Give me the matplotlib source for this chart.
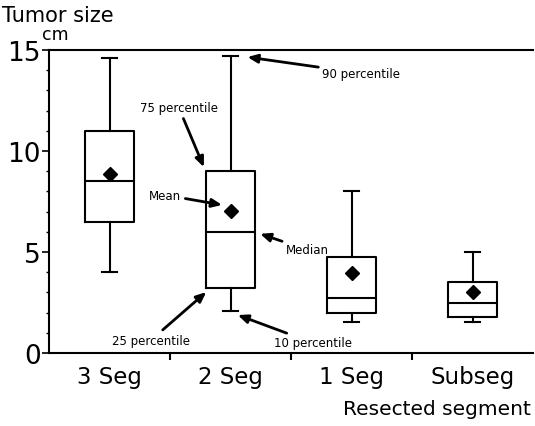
import matplotlib.pyplot as plt
from matplotlib.ticker import MultipleLocator, FixedLocator, NullFormatter

# data (cm)
groups = ["3 Seg", "2 Seg", "1 Seg", "Subseg"]
p10 = [4.0, 2.1, 1.55, 1.55]
p25 = [6.5, 3.2, 2.0, 1.8]
median = [8.5, 6.0, 2.7, 2.5]
p75 = [11.0, 9.0, 4.75, 3.5]
p90 = [14.6, 14.7, 8.0, 5.0]
mean = [8.85, 7.05, 3.95, 3.0]

stats = []
for i, g in enumerate(groups):
    stats.append(dict(label=g, whislo=p10[i], q1=p25[i], med=median[i],
                      q3=p75[i], whishi=p90[i], mean=mean[i], fliers=[]))

plt.rcParams["font.family"] = ["DejaVu Sans"]

fig = plt.figure(figsize=(5.35, 4.27), dpi=100)
ax = fig.add_axes([49 / 535, 73 / 427, 484 / 535, 303 / 427])

lw = 1.5
ax.bxp(stats, positions=[1, 2, 3, 4], widths=0.4, capwidths=0.12,
       showmeans=True, showfliers=False,
       boxprops=dict(color="black", linewidth=lw),
       whiskerprops=dict(color="black", linewidth=lw),
       capprops=dict(color="black", linewidth=lw),
       medianprops=dict(color="black", linewidth=lw),
       meanprops=dict(marker="D", markerfacecolor="black",
                      markeredgecolor="black", markersize=7))

ax.set_xlim(0.5, 4.5)
ax.set_ylim(0, 15)

# spines
ax.spines["right"].set_visible(False)
for s in ["left", "bottom", "top"]:
    ax.spines[s].set_linewidth(1.5)

# y ticks
ax.yaxis.set_major_locator(MultipleLocator(5))
ax.yaxis.set_minor_locator(MultipleLocator(1))
ax.tick_params(axis="y", which="major", length=5, width=1.2, labelsize=19, pad=1)
ax.tick_params(axis="y", which="minor", length=2.5, width=1)

# x ticks: separators at boundaries, labels at box centers
ax.xaxis.set_major_locator(FixedLocator([1.5, 2.5, 3.5]))
ax.xaxis.set_major_formatter(NullFormatter())
ax.xaxis.set_minor_locator(FixedLocator([1, 2, 3, 4]))
ax.set_xticklabels(groups, minor=True)
ax.tick_params(axis="x", which="major", length=5, width=1.5)
ax.tick_params(axis="x", which="minor", length=0, labelsize=16.5, pad=9)

# axis titles
fig.text(2 / 535, 1 - 16 / 427, "Tumor size", fontsize=15, ha="left", va="center")
fig.text(42 / 535, 1 - 35 / 427, "cm", fontsize=12.5, ha="left", va="center")
fig.text(531 / 535, 1 - 410 / 427, "Resected segment", fontsize=14.5,
         ha="right", va="center")

# annotations on the 2 Seg box
arrow = dict(arrowstyle="-|>,head_length=0.7,head_width=0.3",
             color="black", linewidth=2, shrinkA=1, shrinkB=0)
fs = 8.5
ax.annotate("90 percentile", xy=(2.14, 14.65), xytext=(2.76, 13.85),
            fontsize=fs, ha="left", va="center", arrowprops=arrow)
ax.annotate("75 percentile", xy=(1.78, 9.2), xytext=(1.574, 12.13),
            fontsize=fs, ha="center", va="center", arrowprops=arrow)
ax.annotate("Mean", xy=(1.93, 7.33), xytext=(1.46, 7.82),
            fontsize=fs, ha="center", va="center", arrowprops=arrow)
ax.annotate("Median", xy=(2.245, 5.9), xytext=(2.46, 5.1),
            fontsize=fs, ha="left", va="center", arrowprops=arrow)
ax.annotate("25 percentile", xy=(1.80, 3.02), xytext=(1.343, 0.64),
            fontsize=fs, ha="center", va="center", arrowprops=arrow)
ax.annotate("10 percentile", xy=(2.06, 1.88), xytext=(2.36, 0.5),
            fontsize=fs, ha="left", va="center", arrowprops=arrow)

fig.savefig("out.png", dpi=100)
